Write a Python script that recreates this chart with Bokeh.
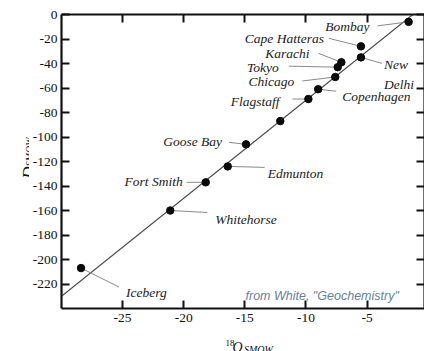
from bokeh.plotting import figure
from bokeh.layouts import row, column
from bokeh.models import LinearAxis, FixedTicker, Label, Range1d
from bokeh.embed import file_html
from bokeh.resources import INLINE

# Precipitation isotope data (per mil vs SMOW)
sites = ["Bombay", "Cape Hatteras", "New\nDelhi", "Karachi", "Tokyo", "Chicago",
         "Copenhagen", "Flagstaff", "", "Goose Bay", "Edmunton", "Fort Smith",
         "Whitehorse", "Iceberg"]
d18O = [-1.6, -5.5, -5.5, -7.1, -7.4, -7.6, -9.0, -9.8, -12.1, -14.9, -16.4,
        -18.2, -21.1, -28.4]
dD = [-6, -26, -35, -39, -43, -51, -61, -69, -87, -106, -124, -137, -160, -207]

x_ticks = [-25, -20, -15, -10, -5]
y_ticks = [0, -20, -40, -60, -80, -100, -120, -140, -160, -180, -200, -220]

# Global meteoric water line: dD = 8 * d18O + 10
gmwl_slope = 8
gmwl_intercept = 10

W, H = 424, 351
YTITLE_W = 29          # strip holding the vertical axis title
XTITLE_H = 18          # strip holding the horizontal axis title
MAIN_W, MAIN_H = W - YTITLE_W, H - XTITLE_H
LEFT, TOP, BOTTOM = 32, 14, 25
x_lo, x_hi = -30, -0.3
y_lo, y_hi = -240, 0

# pixels per data unit inside the frame
sx = (MAIN_W - LEFT) / (x_hi - x_lo)
sy = (MAIN_H - TOP - BOTTOM) / (y_hi - y_lo)

SERIF = "Liberation Serif"
INK = "#111111"

p = figure(width=MAIN_W, height=MAIN_H, x_range=Range1d(x_lo, x_hi),
           y_range=Range1d(y_lo, y_hi), output_backend="svg", toolbar_location=None,
           x_axis_location=None, y_axis_location=None,
           min_border_left=LEFT, min_border_top=TOP, min_border_bottom=BOTTOM,
           min_border_right=0)
p.grid.visible = False
p.outline_line_color = None
p.background_fill_color = "white"
p.border_fill_color = "white"


def style_axis(ax, ticks, labels, standoff=5):
    ax.ticker = FixedTicker(ticks=ticks)
    ax.major_tick_in = 8
    ax.major_tick_out = 0
    ax.minor_tick_line_color = None
    ax.axis_line_width = 2.2
    ax.axis_line_color = INK
    ax.major_tick_line_width = 2
    ax.major_tick_line_color = INK
    if labels:
        # plain hyphen-minus labels, as in the printed figure
        ax.major_label_overrides = {t: str(t) for t in ticks}
        ax.major_label_text_font = SERIF
        ax.major_label_text_font_size = "13.5px"
        ax.major_label_text_color = INK
        ax.major_label_standoff = standoff
    else:
        ax.major_label_text_font_size = "0px"
        ax.major_label_standoff = 0
    return ax


p.add_layout(style_axis(LinearAxis(), x_ticks, True, 5), "below")
p.add_layout(style_axis(LinearAxis(), x_ticks, False), "above")
p.add_layout(style_axis(LinearAxis(), y_ticks, True, 4), "left")
p.add_layout(style_axis(LinearAxis(), y_ticks, False), "right")

# meteoric water line across the frame
x_end = (y_hi - gmwl_intercept) / gmwl_slope
gx = [x_lo, x_end]
gy = [gmwl_slope * v + gmwl_intercept for v in gx]
p.line(gx, gy, line_color="#4a4a4a", line_width=1.1)

# label placement: leader end offset, text offset (px, y down), alignment
placement = {
    "Bombay": ((-31, 4), (-39, 5), "right"),
    "Cape Hatteras": ((-32, -8), (-37, -8), "right"),
    "New\nDelhi": ((21, 6), (23, 7), "left"),
    "Karachi": ((-23, -9), (-32, -9), "right"),
    "Tokyo": ((-49, -1), (-59, 0), "right"),
    "Chicago": ((-33, 4), (-41, 5), "right"),
    "Copenhagen": ((18, 2), (24, 7), "left"),
    "Flagstaff": ((-16, 0), (-29, 2), "right"),
    "Goose Bay": ((-17, -2), (-24, -3), "right"),
    "Edmunton": ((37, 1), (40, 7), "left"),
    "Fort Smith": ((-19, 0), (-23, -1), "right"),
    "Whitehorse": ((37, 2), (45, 9), "left"),
    "Iceberg": ((38, 19), (45, 24), "left"),
}

x0s, y0s, x1s, y1s = [], [], [], []
for name, xv, yv in zip(sites, d18O, dD):
    if name not in placement:
        continue
    (lx, ly), (tx, ty), align = placement[name]
    x0s.append(xv)
    y0s.append(yv)
    x1s.append(xv + lx / sx)
    y1s.append(yv - ly / sy)
    for i, line in enumerate(name.split("\n")):
        p.add_layout(Label(x=xv + tx / sx, y=yv - (ty + i * 20) / sy, text=line,
                           text_font=SERIF, text_font_style="italic",
                           text_font_size="13.5px", text_color="#1a1a1a",
                           text_align=align, text_baseline="middle"))

p.segment(x0=x0s, y0=y0s, x1=x1s, y1=y1s, line_color="#8a8a8a", line_width=1)
p.scatter(d18O, dD, size=7.5, fill_color="#0a0a0a", line_color="#0a0a0a")

p.add_layout(Label(x=184, y=13, x_units="screen", y_units="screen",
                   text='from White, "Geochemistry"', text_font="Liberation Sans",
                   text_font_style="italic", text_font_size="12.5px",
                   text_color="#6482a0", text_align="left", text_baseline="alphabetic"))


def title_strip(w, h):
    f = figure(width=w, height=h, x_range=Range1d(0, w), y_range=Range1d(0, h),
               output_backend="svg", toolbar_location=None,
               x_axis_location=None, y_axis_location=None,
               min_border=0, outline_line_color=None)
    f.grid.visible = False
    f.background_fill_color = "white"
    f.border_fill_color = "white"
    return f


def piece(f, x, y, text, size, italic=True, angle=0.0):
    f.add_layout(Label(x=x, y=y, text=text, angle=angle, text_font=SERIF,
                       text_font_style="italic" if italic else "normal",
                       text_font_size=size, text_color=INK,
                       text_align="left", text_baseline="alphabetic"))


# vertical title: D with subscript SMOW (strip coordinates are pixels)
ytitle = title_strip(YTITLE_W, MAIN_H)
piece(ytitle, 27.5, MAIN_H - 186, "D", "17px", angle=1.5708)
piece(ytitle, 28.8, MAIN_H - 172, "SMOW", "10px", angle=1.5708)

# horizontal title: superscript 18, O, subscript SMOW
xtitle = title_strip(W, XTITLE_H)
piece(xtitle, 225, H - 342, "18", "9px", italic=False)
piece(xtitle, 232, H - 347, "O", "14px")
piece(xtitle, 243.5, H - 349, "SMOW", "10px")

layout = column(row(ytitle, p, spacing=0), xtitle, spacing=0)

open("out.html", "w").write(file_html(layout, INLINE))
